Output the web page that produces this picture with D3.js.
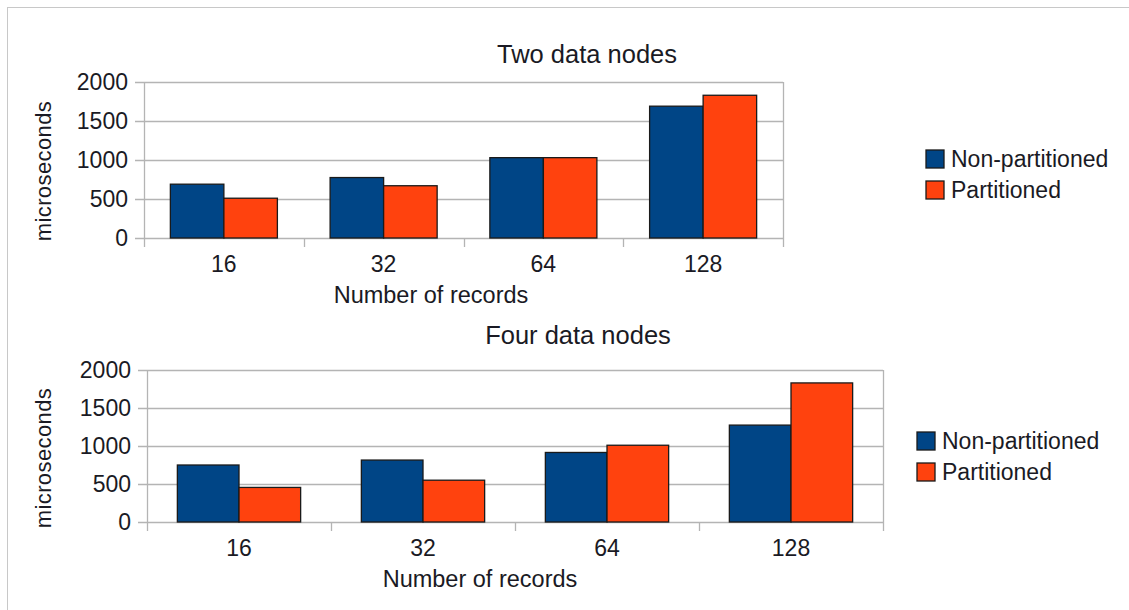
<!DOCTYPE html>
<html>
<head>
<meta charset="utf-8">
<script src="https://cdn.jsdelivr.net/npm/d3@7"></script>
<style>
  body { margin: 0; background: #fff; }
  text { font-family: "Liberation Sans", Arial, sans-serif; fill: #1a1a24; }
</style>
</head>
<body>
<svg id="chart"></svg>
<script>
// data
const categories = ["16", "32", "64", "128"];
const seriesNames = ["Non-partitioned", "Partitioned"];
const twoNodesNonPart = [690, 775, 1030, 1690];
const twoNodesPart = [510, 670, 1030, 1830];
const fourNodesNonPart = [750, 815, 915, 1275];
const fourNodesPart = [455, 550, 1010, 1830];
const yTicks = [0, 500, 1000, 1500, 2000];

const colors = ["#004586", "#ff420e"];

const width = 1129, height = 610;
const svg = d3.select('#chart').attr('width', width).attr('height', height);

// light frame around the picture
svg.append('rect')
    .attr('x', 7.5).attr('y', 7.5)
    .attr('width', width + 10).attr('height', height + 10)
    .attr('fill', 'none')
    .attr('stroke', '#c8c8c8');

function drawPanel(cfg) {
    const g = svg.append('g');
    const x = d3.scaleBand().domain(categories).range([cfg.left, cfg.right]).paddingInner(0.33).paddingOuter(0.165);
    const band = d3.scaleBand().domain(categories).range([cfg.left, cfg.right]);
    const sub = d3.scaleBand().domain(seriesNames).range([0, x.bandwidth()]);
    const y = d3.scaleLinear().domain([0, 2000]).range([cfg.bottom, cfg.top]);

    // gridlines with tick stubs to the left
    g.selectAll('.grid')
        .data(yTicks)
        .enter().append('line')
        .attr('x1', cfg.left - 9).attr('x2', cfg.right)
        .attr('y1', d => Math.round(y(d)) + 0.5).attr('y2', d => Math.round(y(d)) + 0.5)
        .attr('stroke', '#b4b4b4').attr('stroke-width', 1.3);

    // vertical axis lines and category separators
    const seps = [cfg.left].concat(categories.map(c => band(c) + band.bandwidth()));
    g.selectAll('.sep')
        .data(seps)
        .enter().append('line')
        .attr('x1', d => Math.round(d) + 0.5).attr('x2', d => Math.round(d) + 0.5)
        .attr('y1', (d, i) => (i === 0 || i === seps.length - 1) ? cfg.top : cfg.bottom)
        .attr('y2', cfg.bottom + 9)
        .attr('stroke', '#b4b4b4').attr('stroke-width', 1.3);

    const series = [cfg.a, cfg.b];
    series.forEach((vals, si) => {
        g.selectAll('.bar' + si)
            .data(vals)
            .enter().append('rect')
            .attr('x', (d, i) => x(categories[i]) + sub(seriesNames[si]))
            .attr('y', d => y(d))
            .attr('width', sub.bandwidth())
            .attr('height', d => y(0) - y(d))
            .attr('fill', colors[si])
            .attr('stroke', '#1a1a1a')
            .attr('stroke-width', 1.3);
    });

    // y tick labels
    g.selectAll('.ylab')
        .data(yTicks)
        .enter().append('text')
        .attr('x', cfg.left - 16)
        .attr('y', d => y(d) + 8)
        .attr('text-anchor', 'end')
        .attr('font-size', '23px')
        .text(d => d);

    // x tick labels
    g.selectAll('.xlab')
        .data(categories)
        .enter().append('text')
        .attr('x', d => x(d) + x.bandwidth() / 2)
        .attr('y', cfg.bottom + 34)
        .attr('text-anchor', 'middle')
        .attr('font-size', '23px')
        .text(d => d);

    g.append('text')
        .attr('x', cfg.titleX).attr('y', cfg.titleY)
        .attr('text-anchor', 'middle')
        .attr('font-size', '25.5px')
        .text(cfg.title);

    g.append('text')
        .attr('x', cfg.xTitleX).attr('y', cfg.xTitleY)
        .attr('text-anchor', 'middle')
        .attr('font-size', '23.5px')
        .text('Number of records');

    g.append('text')
        .attr('transform', `translate(51, ${cfg.yTitleY}) rotate(-90)`)
        .attr('text-anchor', 'middle')
        .attr('font-size', '22px')
        .attr('letter-spacing', '0.4px')
        .text('microseconds');

    // legend
    const legend = g.append('g').attr('transform', `translate(${cfg.legX}, ${cfg.legY})`);
    seriesNames.forEach((name, i) => {
        legend.append('rect')
            .attr('x', 0).attr('y', i * 31)
            .attr('width', 18).attr('height', 18)
            .attr('fill', colors[i])
            .attr('stroke', '#1a1a1a').attr('stroke-width', 1.3);
        legend.append('text')
            .attr('x', 25).attr('y', i * 31 + 17)
            .attr('font-size', '23px')
            .text(name);
    });
}

drawPanel({
    a: twoNodesNonPart, b: twoNodesPart, title: 'Two data nodes',
    left: 144, right: 783, top: 82, bottom: 238,
    titleX: 587, titleY: 63, xTitleX: 431, xTitleY: 303, yTitleY: 171,
    legX: 926, legY: 150
});

drawPanel({
    a: fourNodesNonPart, b: fourNodesPart, title: 'Four data nodes',
    left: 147, right: 883, top: 370, bottom: 522,
    titleX: 578, titleY: 344, xTitleX: 480, xTitleY: 587, yTitleY: 458,
    legX: 917, legY: 432
});
</script>
</body>
</html>
